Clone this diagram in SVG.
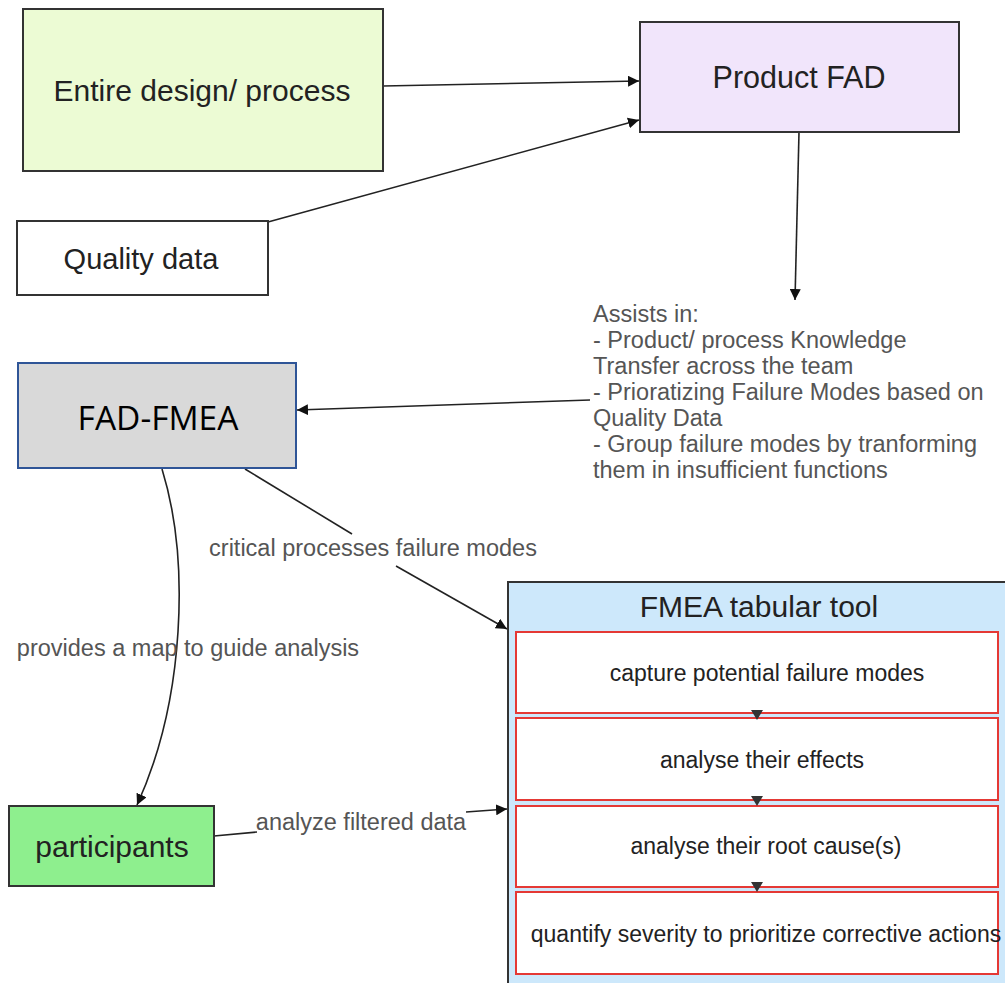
<svg xmlns="http://www.w3.org/2000/svg" width="1005" height="983" viewBox="0 0 1005 983">
  <style>
    .box { stroke: #333; stroke-width: 2; }
    .lbl { font-family: "Liberation Sans", Arial, sans-serif; fill: #222; text-anchor: middle; }
    .edge { fill: none; stroke: #222; stroke-width: 1.6; }
    .elbl { font-family: "Liberation Sans", Arial, sans-serif; fill: #555; font-size: 23.5px; }
    .step { fill: #fff; stroke: #e53935; stroke-width: 2; }
    .stxt { font-family: "Liberation Sans", Arial, sans-serif; fill: #222; font-size: 23px; text-anchor: middle; }
  </style>
  <defs>
    <marker id="arr" viewBox="0 0 10 10" refX="10" refY="5" markerWidth="11" markerHeight="11" markerUnits="userSpaceOnUse" orient="auto">
      <path d="M0,0 L10,5 L0,10 z" fill="#111"/>
    </marker>
  </defs>
  <rect width="1005" height="983" fill="#fff"/>

  <g id="connectors">
    <line class="edge" x1="383" y1="86" x2="639" y2="81" marker-end="url(#arr)"/>
    <line class="edge" x1="268" y1="222" x2="639" y2="120" marker-end="url(#arr)"/>
    <line class="edge" x1="799" y1="132" x2="795" y2="300" marker-end="url(#arr)"/>
    <line class="edge" x1="590" y1="400" x2="297" y2="410" marker-end="url(#arr)"/>
    <line class="edge" x1="245" y1="469" x2="352" y2="534"/>
    <line class="edge" x1="396" y1="566" x2="507" y2="629" marker-end="url(#arr)"/>
    <path class="edge" d="M162,469 C190,560 185,700 137,805" marker-end="url(#arr)"/>
    <line class="edge" x1="214" y1="836" x2="257" y2="832"/>
    <line class="edge" x1="466" y1="812" x2="507" y2="809" marker-end="url(#arr)"/>
    <text class="elbl" x="373" y="556" text-anchor="middle">critical processes failure modes</text>
    <text class="elbl" x="188" y="656" text-anchor="middle">provides a map to guide analysis</text>
    <text class="elbl" x="361" y="830" text-anchor="middle">analyze filtered data</text>
    <text class="elbl" x="593" y="322">Assists in:
      <tspan x="593" y="348">- Product/ process Knowledge</tspan>
      <tspan x="593" y="374">Transfer across the team</tspan>
      <tspan x="593" y="400">- Prioratizing Failure Modes based on</tspan>
      <tspan x="593" y="426">Quality Data</tspan>
      <tspan x="593" y="452">- Group failure modes by tranforming</tspan>
      <tspan x="593" y="478">them in insufficient functions</tspan>
    </text>
  </g>

  <g id="entire-design">
    <rect class="box" x="23" y="9" width="360" height="162" fill="#ecfbd4"/>
    <text class="lbl" x="202" y="101" font-size="30">Entire design/ process</text>
  </g>

  <g id="quality-data">
    <rect class="box" x="17" y="221" width="251" height="74" fill="#fff"/>
    <text class="lbl" x="141" y="269" font-size="29">Quality data</text>
  </g>

  <g id="product-fad">
    <rect class="box" x="640" y="22" width="319" height="110" fill="#f1e5fb"/>
    <text class="lbl" x="799" y="88" font-size="30.5">Product FAD</text>
  </g>

  <g id="fad-fmea">
    <rect x="18" y="363" width="278" height="105" fill="#d9d9d9" stroke="#2f5597" stroke-width="2"/>
    <text x="158" y="430" font-family="'Open Sans', 'Liberation Sans', sans-serif" font-size="33.5" fill="#000" text-anchor="middle">FAD-FMEA</text>
  </g>

  <g id="participants">
    <rect class="box" x="9" y="806" width="205" height="80" fill="#8eef8e"/>
    <text class="lbl" x="112" y="857" font-size="30">participants</text>
  </g>

  <g id="fmea-tool">
    <rect x="508" y="582" width="510" height="420" fill="#cde8fb" stroke="#333" stroke-width="2"/>
    <text class="lbl" x="759" y="617" font-size="30">FMEA tabular tool</text>
    <g id="step-capture">
      <rect class="step" x="516" y="632" width="482" height="81"/>
      <text class="stxt" x="767" y="681">capture potential failure modes</text>
    </g>
    <g id="step-effects">
      <rect class="step" x="516" y="718" width="482" height="82"/>
      <text class="stxt" x="762" y="768">analyse their effects</text>
    </g>
    <g id="step-cause">
      <rect class="step" x="516" y="806" width="482" height="81"/>
      <text class="stxt" x="766" y="854">analyse their root cause(s)</text>
    </g>
    <g id="step-severity">
      <rect class="step" x="516" y="892" width="482" height="82"/>
      <text class="stxt" x="766" y="942">quantify severity to prioritize corrective actions</text>
    </g>
    <path d="M751,710 L763,710 L757,720 z" fill="#333"/>
    <path d="M751,796 L763,796 L757,806 z" fill="#333"/>
    <path d="M751,882 L763,882 L757,892 z" fill="#333"/>
  </g>
</svg>
